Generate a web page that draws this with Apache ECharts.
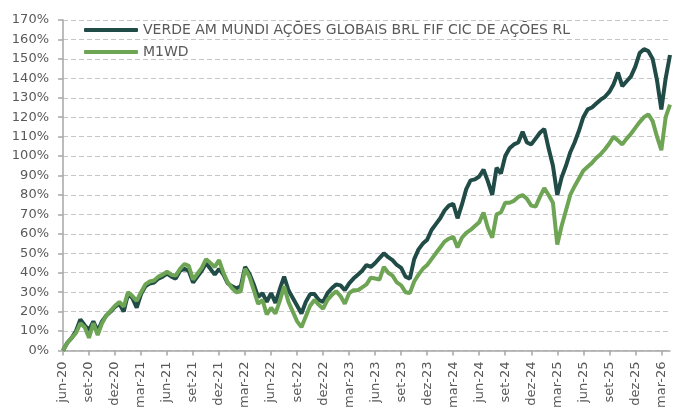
<!DOCTYPE html>
<html>
<head>
<meta charset="utf-8">
<script src="https://cdn.jsdelivr.net/npm/echarts@6/dist/echarts.min.js"></script>
<style>
  html, body { margin: 0; padding: 0; background: #fff; }
  #visualisation { width: 682px; height: 414px; }
</style>
</head>
<body>
<div id="visualisation"></div>
<script>
// Nomes das séries
const nomeFundo = 'VERDE AM MUNDI AÇÕES GLOBAIS BRL FIF CIC DE AÇÕES RL';
const nomeIndice = 'M1WD';

// Meses para os rótulos do eixo X (pontos quinzenais a partir de jun-20)
const meses = ['jan', 'fev', 'mar', 'abr', 'mai', 'jun', 'jul', 'ago', 'set', 'out', 'nov', 'dez'];
const mesInicial = 5;   // junho
const anoInicial = 20;
const numPontos = 141;

// Rentabilidade acumulada do fundo (%), quinzenal
const fundo = [
  0, 4, 6.5, 10, 16, 13, 10.5, 15, 10, 15,
  18, 20, 22.5, 24, 20, 29, 27, 22, 29, 33,
  34.5, 35, 37, 38, 39.5, 38, 37, 41, 42, 41,
  35, 38, 41, 45, 42, 39, 42, 39, 34.5, 33,
  32, 33, 43, 39.5, 34, 27.5, 29.5, 25, 29.5, 24.5,
  31.5, 38, 31, 27, 23, 19, 25, 29, 29, 26,
  25, 29.5, 32, 34, 33.5, 31, 34.5, 37, 39, 41,
  44, 43, 45, 47.5, 50, 48, 46.5, 44, 42.5, 38,
  37, 47, 52, 55, 57, 62, 65, 68, 72, 74.5,
  75.5, 68, 75, 83, 87.5, 88, 89.5, 93, 87, 80,
  94, 91, 100, 104, 106, 107, 112.5, 107, 106, 109,
  112, 114, 104, 95, 80, 89, 95, 102, 107, 113,
  120, 124, 125, 127, 129, 130.5, 133, 137, 143, 136,
  138.5, 141, 146, 153, 155, 154, 150, 139, 124, 140,
  152
];

// M1WD (%), quinzenal
const indice = [
  0, 4, 6.5, 9, 14, 12, 6.5, 14, 8, 14,
  18, 20.5, 23, 25, 22.5, 30, 28, 25.5, 30, 34,
  35.5, 36, 38, 39, 40.5, 39, 38.5, 42, 44.5, 43.5,
  36.5, 39.5, 42.5, 47, 45, 43, 46.5, 40, 35, 32,
  30, 30.5, 42, 38, 31, 24, 26, 18.5, 22, 19,
  25.5, 33, 25, 20, 15, 12, 17.5, 23, 26, 23.5,
  21.5, 26, 28.5, 30.5, 28, 24, 29.5, 31, 31, 32.5,
  34, 37.5, 37, 36.5, 43, 40, 38.5, 35, 33.5, 30,
  29.5, 35.5, 39, 42, 44, 47, 50, 53, 56, 57.5,
  58.5, 53, 58, 60.5, 62, 64, 66, 71, 63, 58,
  70, 71, 76, 76, 77, 79, 80, 78, 74.5, 74,
  79, 83.5, 80, 76, 54.5, 64, 72, 80, 84.5, 88.5,
  92.5, 94.5, 96.5, 99, 101, 103.5, 106.5, 110, 108, 106,
  109, 111.5, 114.5, 117.5, 120, 121.5, 118, 110, 103, 120,
  126.5
];

// Categorias do eixo X
const datas = [];
for (let i = 0; i < numPontos; i++) {
  const m = mesInicial + Math.floor(i / 2);
  const rotulo = meses[m % 12] + '-' + (anoInicial + Math.floor(m / 12));
  datas.push(i % 2 === 0 ? rotulo : '15 ' + rotulo);
}

const fonte = 'DejaVu Sans';
const cinza = '#595959';

let visualisation = echarts.init(document.getElementById('visualisation'));

let option = {
  animation: false,
  backgroundColor: '#fff',
  textStyle: { fontFamily: fonte },
  grid: { left: 63, right: 12, top: 20, bottom: 63.5, containLabel: false },
  legend: {
    orient: 'vertical',
    left: 84,
    top: 23,
    padding: 0,
    itemWidth: 54,
    itemHeight: 4,
    itemGap: 8,
    itemTextGap: 4,
    icon: 'roundRect',
    textStyle: { fontFamily: fonte, fontSize: 14, color: cinza, lineHeight: 14 },
    data: [nomeFundo, nomeIndice]
  },
  xAxis: {
    type: 'category',
    boundaryGap: false,
    data: datas,
    axisLine: { lineStyle: { color: '#a6a6a6', width: 1.5 } },
    axisTick: {
      interval: (i) => i % 6 === 0,
      length: 5,
      lineStyle: { color: '#a6a6a6', width: 1.5 }
    },
    axisLabel: {
      interval: (i) => i % 6 === 0,
      rotate: 90,
      margin: 11,
      fontFamily: fonte,
      fontSize: 13,
      color: cinza
    },
    splitLine: { show: false }
  },
  yAxis: {
    type: 'value',
    min: 0,
    max: 170,
    interval: 10,
    axisLine: { show: true, lineStyle: { color: '#a6a6a6', width: 1.5 } },
    axisTick: { show: true, length: 5, lineStyle: { color: '#a6a6a6', width: 1.5 } },
    axisLabel: {
      formatter: '{value}%',
      margin: 14,
      fontFamily: fonte,
      fontSize: 13,
      color: cinza
    },
    splitLine: { lineStyle: { color: '#c6c6c6', type: [5, 3], width: 1 } }
  },
  series: [
    {
      name: nomeFundo,
      type: 'line',
      data: fundo,
      showSymbol: false,
      symbol: 'none',
      lineStyle: { color: '#214b46', width: 4 },
      itemStyle: { color: '#214b46' }
    },
    {
      name: nomeIndice,
      type: 'line',
      data: indice,
      showSymbol: false,
      symbol: 'none',
      lineStyle: { color: '#6ea555', width: 4 },
      itemStyle: { color: '#6ea555' }
    }
  ]
};

visualisation.setOption(option);
</script>
</body>
</html>
